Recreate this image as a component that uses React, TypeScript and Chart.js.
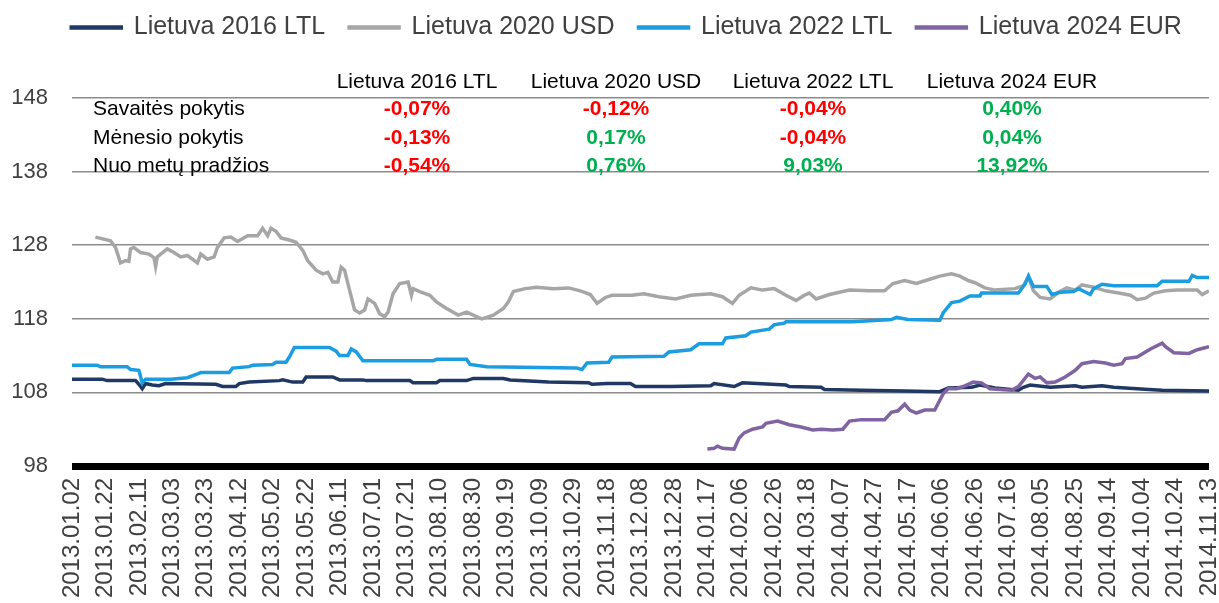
import React, { useEffect, useRef } from "react";
import { Chart, registerables } from "chart.js";

Chart.register(...registerables);

// ---------- data ----------
const SERIES_NAMES = ["Lietuva 2016 LTL", "Lietuva 2020 USD", "Lietuva 2022 LTL", "Lietuva 2024 EUR"];
const SERIES_COLORS = ["#203864", "#a6a6a6", "#1c9ddf", "#8064a2"];

const TICK_STEP_DAYS = 20;
const TICK_LABELS = [
  "2013.01.02", "2013.01.22", "2013.02.11", "2013.03.03", "2013.03.23", "2013.04.12", "2013.05.02",
  "2013.05.22", "2013.06.11", "2013.07.01", "2013.07.21", "2013.08.10", "2013.08.30", "2013.09.19",
  "2013.10.09", "2013.10.29", "2013.11.18", "2013.12.08", "2013.12.28", "2014.01.17", "2014.02.06",
  "2014.02.26", "2014.03.18", "2014.04.07", "2014.04.27", "2014.05.17", "2014.06.06", "2014.06.26",
  "2014.07.16", "2014.08.05", "2014.08.25", "2014.09.14", "2014.10.04", "2014.10.24", "2014.11.13",
];

// days since 2013.01.02 / index value
const lt2016Days = [0, 18, 21, 38, 40, 42, 44, 48, 52, 56, 86, 90, 98, 100, 106, 124, 126, 132, 138, 140, 156, 160, 174, 176, 202, 204, 218, 220, 236, 240, 258, 262, 285, 309, 311, 320, 334, 337, 358, 382, 384, 396, 401, 427, 429, 448, 450, 472, 498, 519, 524, 538, 543, 552, 566, 569, 573, 585, 600, 604, 616, 623, 644, 652, 680];
const lt2016Values = [109.8, 109.8, 109.6, 109.6, 109.1, 108.5, 109.2, 109.0, 108.9, 109.2, 109.1, 108.8, 108.8, 109.2, 109.4, 109.6, 109.7, 109.4, 109.4, 110.1, 110.1, 109.7, 109.7, 109.6, 109.6, 109.3, 109.3, 109.6, 109.6, 109.9, 109.9, 109.7, 109.4, 109.3, 109.1, 109.2, 109.2, 108.8, 108.8, 108.9, 109.2, 108.8, 109.3, 109.0, 108.8, 108.7, 108.4, 108.3, 108.2, 108.1, 108.6, 108.7, 109.0, 108.6, 108.3, 108.7, 109.0, 108.7, 108.9, 108.7, 108.9, 108.7, 108.4, 108.3, 108.2];

const lt2020Days = [14, 23, 26, 29, 32, 34, 35, 37, 41, 46, 49, 50, 51, 57, 61, 65, 69, 72, 75, 77, 81, 85, 87, 91, 95, 99, 105, 111, 114, 117, 119, 122, 125, 130, 134, 138, 141, 146, 150, 153, 156, 159, 161, 163, 166, 169, 172, 175, 177, 181, 184, 187, 189, 192, 196, 201, 203, 204, 208, 214, 218, 224, 231, 236, 245, 252, 258, 261, 264, 271, 278, 288, 297, 304, 310, 314, 319, 323, 335, 342, 351, 361, 370, 382, 389, 395, 399, 406, 413, 420, 427, 433, 438, 441, 445, 453, 465, 477, 486, 491, 498, 505, 512, 519, 526, 531, 536, 540, 546, 552, 564, 569, 572, 575, 579, 585, 590, 595, 600, 604, 611, 618, 626, 633, 637, 642, 647, 654, 661, 668, 673, 676, 680];
const lt2020Values = [129.1, 128.6, 127.7, 125.6, 125.9, 125.8, 127.5, 127.7, 127.0, 126.8, 126.3, 125.1, 126.4, 127.5, 127.0, 126.4, 126.6, 126.1, 125.6, 126.8, 126.1, 126.4, 127.7, 129.0, 129.1, 128.5, 129.3, 129.3, 130.3, 129.3, 130.3, 129.9, 129.0, 128.7, 128.4, 127.3, 125.9, 124.6, 124.1, 124.3, 123.0, 123.0, 125.0, 124.6, 121.9, 119.2, 118.8, 119.2, 120.7, 120.1, 118.7, 118.3, 118.9, 121.4, 122.8, 123.0, 121.2, 122.1, 121.7, 121.2, 120.3, 119.4, 118.5, 118.9, 118.0, 118.5, 119.4, 120.3, 121.7, 122.1, 122.3, 122.1, 122.2, 121.8, 121.3, 120.1, 120.9, 121.2, 121.2, 121.4, 121.0, 120.7, 121.2, 121.4, 121.0, 120.1, 121.2, 122.2, 121.9, 122.1, 121.2, 120.5, 121.2, 121.5, 120.7, 121.3, 121.9, 121.8, 121.8, 122.8, 123.2, 122.8, 123.3, 123.8, 124.1, 123.8, 123.2, 122.9, 122.2, 121.9, 122.1, 122.5, 123.7, 121.8, 120.9, 120.7, 121.6, 122.2, 121.9, 122.6, 122.3, 121.8, 121.5, 121.2, 120.6, 120.8, 121.5, 121.8, 121.9, 121.9, 121.9, 121.3, 121.8];

const lt2022Days = [0, 15, 17, 33, 35, 40, 42, 44, 59, 69, 75, 77, 94, 96, 106, 108, 120, 122, 128, 130, 133, 154, 158, 160, 165, 167, 170, 174, 216, 218, 236, 238, 248, 302, 305, 308, 321, 323, 354, 357, 370, 375, 389, 391, 403, 406, 417, 420, 426, 427, 467, 490, 493, 500, 519, 521, 526, 531, 537, 543, 544, 566, 570, 572, 575, 583, 586, 591, 599, 602, 609, 611, 616, 623, 649, 652, 668, 670, 673, 680];
const lt2022Values = [111.7, 111.7, 111.5, 111.5, 111.1, 111.0, 109.3, 109.8, 109.8, 110.0, 110.5, 110.7, 110.7, 111.3, 111.5, 111.7, 111.8, 112.1, 112.1, 112.8, 114.1, 114.1, 113.6, 113.0, 113.0, 113.9, 113.5, 112.3, 112.3, 112.5, 112.5, 111.8, 111.5, 111.3, 111.1, 112.0, 112.1, 112.8, 112.9, 113.5, 113.8, 114.6, 114.6, 115.4, 115.7, 116.2, 116.6, 117.2, 117.4, 117.6, 117.6, 117.9, 118.2, 117.9, 117.8, 118.8, 120.2, 120.4, 121.1, 121.1, 121.5, 121.5, 122.7, 123.8, 122.4, 122.4, 121.3, 121.6, 121.7, 122.1, 121.3, 122.1, 122.7, 122.5, 122.5, 123.1, 123.1, 123.9, 123.6, 123.6];

const lt2024Days = [380, 384, 386, 389, 396, 399, 402, 407, 413, 415, 422, 429, 436, 443, 448, 455, 461, 465, 472, 486, 490, 494, 498, 501, 505, 510, 516, 518, 521, 524, 529, 533, 539, 544, 549, 555, 562, 566, 572, 576, 579, 583, 588, 594, 600, 604, 611, 618, 623, 628, 630, 637, 645, 652, 654, 659, 668, 673, 680];
const lt2024Values = [100.3, 100.4, 100.7, 100.4, 100.3, 101.8, 102.5, 103.0, 103.3, 103.8, 104.1, 103.6, 103.3, 102.9, 103.0, 102.9, 103.0, 104.1, 104.3, 104.3, 105.3, 105.5, 106.4, 105.6, 105.2, 105.6, 105.6, 106.5, 107.8, 108.5, 108.5, 108.8, 109.4, 109.3, 108.5, 108.4, 108.3, 108.8, 110.5, 109.9, 110.1, 109.3, 109.4, 110.1, 111.0, 111.9, 112.2, 112.0, 111.7, 111.9, 112.6, 112.8, 113.9, 114.7, 114.2, 113.4, 113.3, 113.8, 114.2];

const Y_MIN = 98;
const Y_MAX = 148;
const Y_STEP = 10;

const TABLE_ROW_LABELS = ["Savaitės pokytis", "Mėnesio pokytis", "Nuo metų pradžios"];
const WEEKLY_CHANGE = ["-0,07%", "-0,12%", "-0,04%", "0,40%"];
const MONTHLY_CHANGE = ["-0,13%", "0,17%", "-0,04%", "0,04%"];
const YTD_CHANGE = ["-0,54%", "0,76%", "9,03%", "13,92%"];

// ---------- layout ----------
const FONT = '"Liberation Sans", Arial, sans-serif';
const SHIFT = 9;
const CANVAS_H = 690;
const PLOT_TOP = 98;
const PLOT_BOTTOM = 466;
const PLOT_LEFT = 72;
const PAD_RIGHT = 10;
const LEGEND_OFFSET_X = 22;

const zip = (xs: number[], ys: number[]) => xs.map((x, i) => ({ x, y: ys[i] }));

const tablePlugin = {
  id: "summaryTable",
  afterDraw(chart: any) {
    const ctx = chart.ctx as CanvasRenderingContext2D;
    const colX = [417, 616, 813, 1012];
    const rowBase = [115, 144, 172];
    const rows = [WEEKLY_CHANGE, MONTHLY_CHANGE, YTD_CHANGE];
    ctx.save();
    ctx.textBaseline = "alphabetic";
    ctx.fillStyle = "#000";
    ctx.font = `21px ${FONT}`;
    ctx.textAlign = "center";
    SERIES_NAMES.forEach((n, i) => ctx.fillText(n, colX[i], 88 + SHIFT));
    ctx.textAlign = "left";
    TABLE_ROW_LABELS.forEach((l, r) => ctx.fillText(l, 93, rowBase[r] + SHIFT));
    ctx.font = `bold 21px ${FONT}`;
    ctx.textAlign = "center";
    rows.forEach((vals, r) => {
      vals.forEach((v, i) => {
        ctx.fillStyle = v.trim().startsWith("-") ? "#ff0000" : "#00b050";
        ctx.fillText(v, colX[i], rowBase[r] + SHIFT);
      });
    });
    ctx.restore();
  },
};

const legendSpacer = {
  id: "legendSpacer",
  beforeInit(chart: any) {
    const legend = chart.legend;
    if (!legend) return;
    const origFit = legend.fit;
    legend.fit = function () {
      origFit.call(this);
      this.height = PLOT_TOP + SHIFT;
    };
  },
  beforeDraw(chart: any) {
    const legend = chart.legend;
    if (!legend) return;
    legend.left = LEGEND_OFFSET_X;
    legend.right = chart.width - PAD_RIGHT + LEGEND_OFFSET_X;
  },
};

export default function App() {
  const ref = useRef<HTMLCanvasElement>(null);

  useEffect(() => {
    if (!ref.current) return;
    const seriesData = [
      zip(lt2016Days, lt2016Values),
      zip(lt2020Days, lt2020Values),
      zip(lt2022Days, lt2022Values),
      zip(lt2024Days, lt2024Values),
    ];
    const chart = new Chart(ref.current, {
      type: "line",
      data: {
        datasets: SERIES_NAMES.map((name, i) => ({
          label: name,
          data: seriesData[i],
          borderColor: SERIES_COLORS[i],
          backgroundColor: SERIES_COLORS[i],
          borderWidth: 3.5,
          pointRadius: 0,
          tension: 0,
          fill: false,
          order: 4 - i,
        })),
      },
      options: {
        animation: false,
        responsive: true,
        maintainAspectRatio: false,
        layout: { padding: { left: 0, right: PAD_RIGHT, top: 0, bottom: 0 } },
        plugins: {
          tooltip: { enabled: false },
          legend: {
            position: "top",
            labels: {
              boxWidth: 50,
              boxHeight: 1,
              padding: 24,
              color: "#404040",
              font: { family: FONT, size: 25 },
              sort: (a: any, b: any) => a.datasetIndex - b.datasetIndex,
            },
          },
        },
        scales: {
          x: {
            type: "linear",
            min: 0,
            max: (TICK_LABELS.length - 1) * TICK_STEP_DAYS,
            ticks: {
              stepSize: TICK_STEP_DAYS,
              autoSkip: false,
              maxRotation: 90,
              minRotation: 90,
              padding: 12,
              color: "#404040",
              font: { family: FONT, size: 24 },
              callback: (v: any) => TICK_LABELS[Math.round(Number(v) / TICK_STEP_DAYS)] ?? "",
            },
            grid: { display: false, drawTicks: false },
            border: { display: false },
            afterFit: (s: any) => {
              s.height = CANVAS_H - (PLOT_BOTTOM + SHIFT);
              s.paddingLeft = 0;
              s.paddingRight = 0;
            },
          },
          y: {
            min: Y_MIN,
            max: Y_MAX,
            ticks: {
              stepSize: Y_STEP,
              padding: 24,
              color: "#404040",
              font: { family: FONT, size: 22 },
            },
            grid: {
              drawTicks: false,
              color: (c: any) => (c.tick && c.tick.value === Y_MIN ? "#000000" : "#8c8c8c"),
              lineWidth: (c: any) => (c.tick && c.tick.value === Y_MIN ? 7 : 1.5),
            },
            border: { display: false },
            afterFit: (s: any) => {
              s.width = PLOT_LEFT;
            },
          },
        },
      },
      plugins: [legendSpacer, tablePlugin],
    } as any);
    return () => chart.destroy();
  }, []);

  return (
    <div
      style={{
        position: "fixed",
        left: 0,
        top: 0,
        width: 1219,
        height: 603,
        overflow: "hidden",
        background: "#ffffff",
      }}
    >
      <div style={{ position: "absolute", left: 0, top: -SHIFT, width: 1219, height: CANVAS_H }}>
        <canvas ref={ref} />
      </div>
    </div>
  );
}
